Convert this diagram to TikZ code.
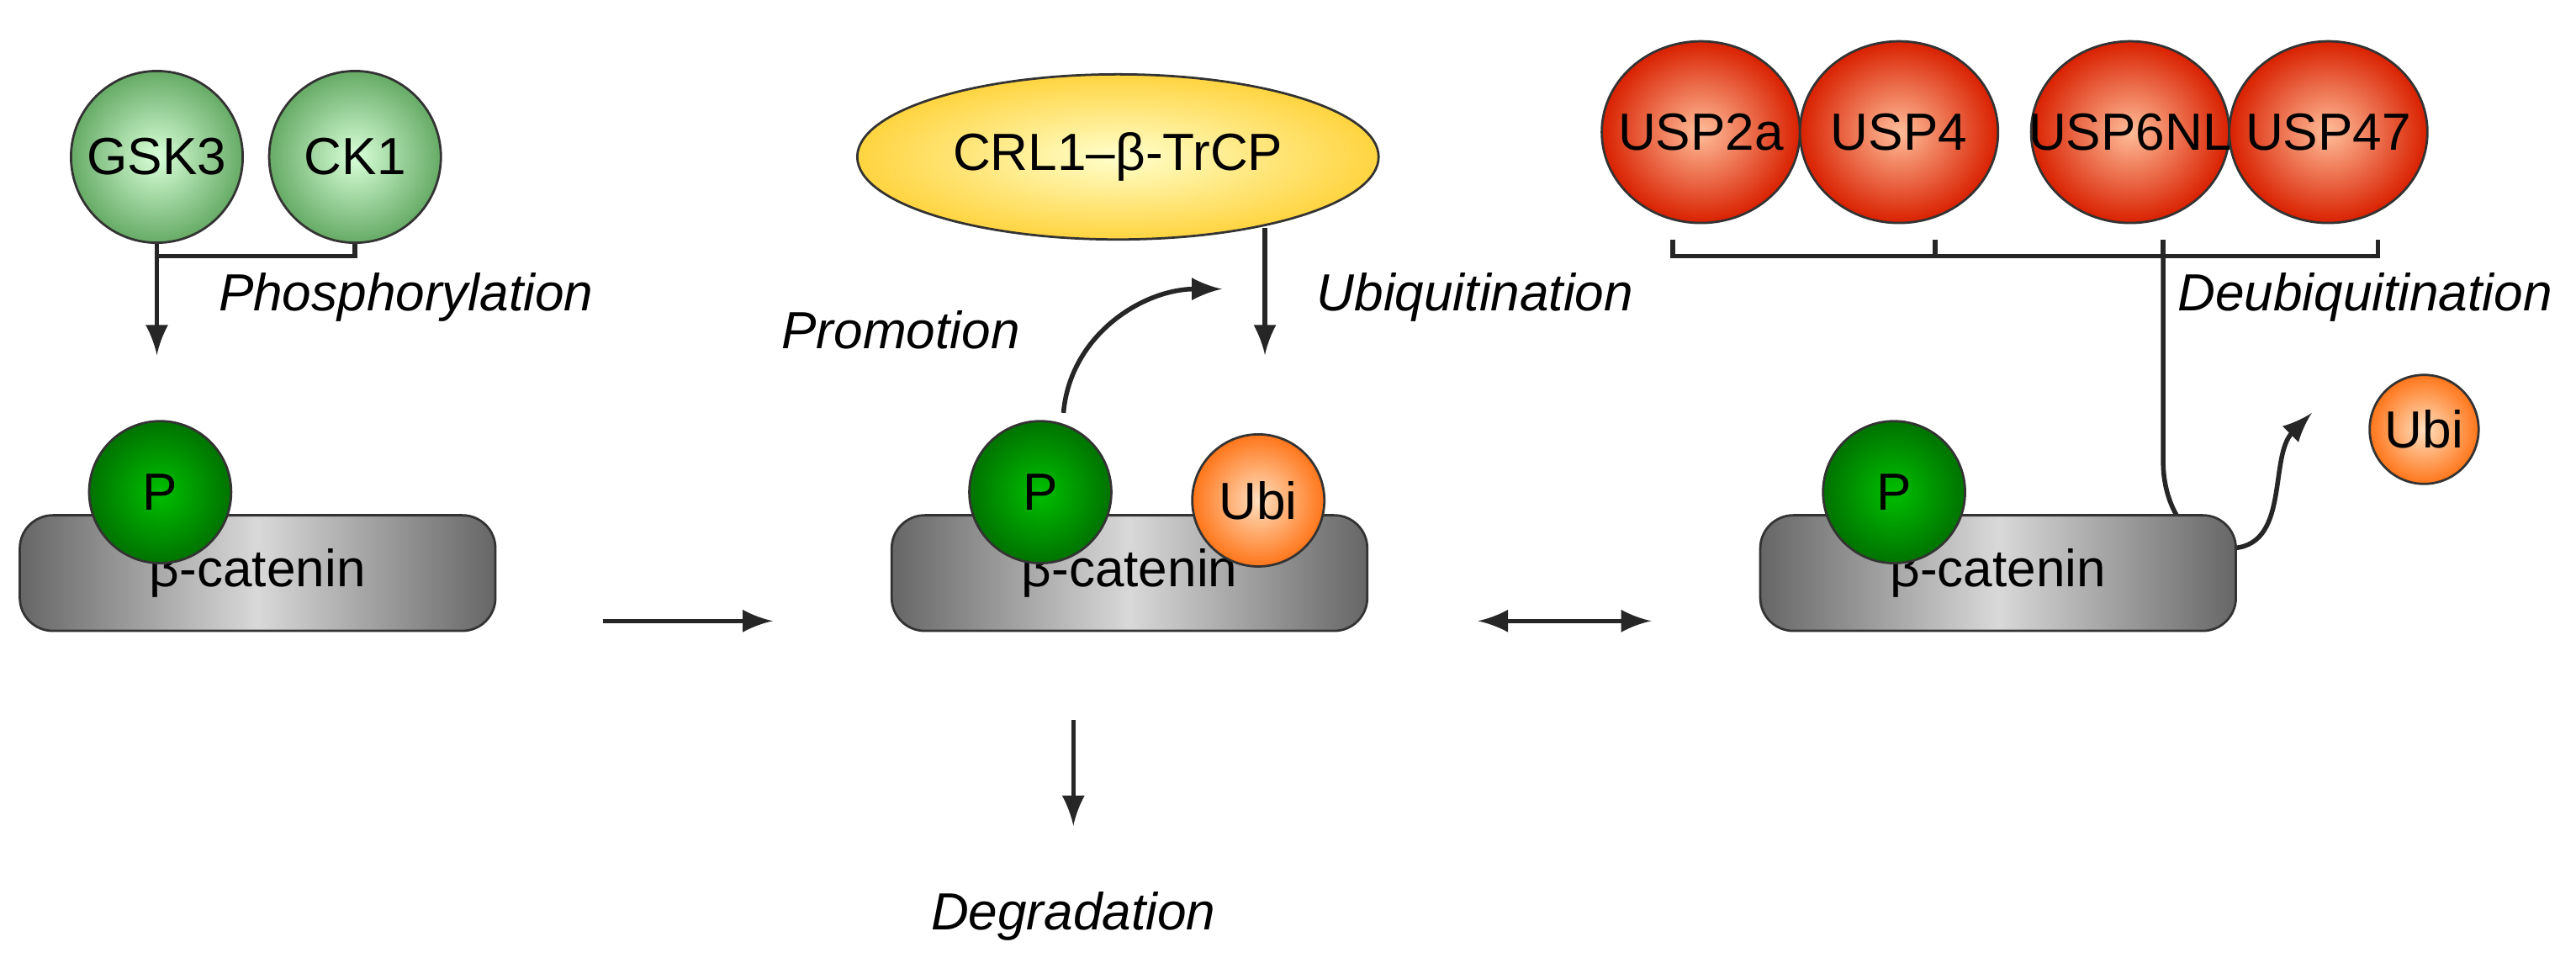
\documentclass[tikz,border=0pt]{standalone}
\usepackage{fontspec}
\setmainfont{Liberation Sans}
\usetikzlibrary{positioning,shapes.geometric}
\tikzset{
  kin/.style={circle, draw=black!80, minimum size=1.04cm, inner sep=0pt, inner color=green!15!white, outer color=green!45!black!60},
  dub/.style={ellipse, draw=black!80, minimum width=1.2cm, minimum height=1.1cm, inner sep=0pt, inner color=red!30!orange!40!white, outer color=red!70!orange!85!black},
  phos/.style={circle, draw=black!80, minimum size=0.86cm, inner sep=0pt, inner color=green!75!black, outer color=green!45!black},
  ubi/.style={circle, draw=black!80, minimum size=0.8cm, inner sep=0pt, inner color=orange!25!white, outer color=orange!80!red!90},
  cat/.style={rounded corners=0.2cm, draw=black!80, minimum width=2.88cm, minimum height=0.7cm, left color=black!60, right color=black!60, middle color=black!15},
  lbl/.style={font=\fontsize{9}{11}\selectfont\itshape},
  arr/.style={-latex, thick, black!85}
}
\begin{document}
\begin{tikzpicture}[font=\fontsize{9}{11}\selectfont]
\useasboundingbox (0,0) rectangle (15.6,-5.8);

% left
\node[kin] (gsk) at (0.95,-0.95) {GSK3};
\node[kin] (ck) at (2.15,-0.95) {CK1};
\draw[thick, black!85] (gsk.south) -- (0.95,-1.55) -| (ck.south);
\coordinate (pa) at (0.95,-1.55);
\node[cat] (cat1) at (1.56,-3.47) {\raisebox{-0.6mm}{β-catenin}};
\node[phos] (p1) at (0.97,-2.98) {P};
\draw[arr] (pa) -- (0.95,-2.15);
\node[lbl, anchor=west] (lph) at (1.2,-1.8) {Phosphorylation};

\draw[arr] (3.65,-3.76) -- (4.68,-3.76);

% middle
\node[ellipse, draw=black!80, minimum width=2.96cm, minimum height=1.0cm, inner color=yellow!20!white, outer color=orange!45!yellow!75] (crl) at (6.77,-0.95) {CRL1–β-TrCP};
\node[cat] (cat2) at (6.84,-3.47) {\raisebox{-0.6mm}{β-catenin}};
\node[phos] (p2) at (6.3,-2.98) {P};
\node[ubi] (u2) at (7.62,-3.03) {Ubi};
\draw[arr] (7.66,-1.38) -- (7.66,-2.15);
\node[lbl, anchor=west] (lub) at (7.85,-1.8) {Ubiquitination};
\node[lbl, anchor=east] (lpr) at (6.3,-2.0) {Promotion};
\draw[arr] (6.44,-2.5) to[out=85, in=180] (7.4,-1.75);
\draw[latex-latex, thick, black!85] (8.95,-3.76) -- (10.0,-3.76);
\draw[arr] (6.5,-4.36) -- (6.5,-5.0);
\node[lbl] (ldg) at (6.5,-5.55) {Degradation};

% right
\node[dub] (u2a) at (10.3,-0.8) {\makebox[0pt]{USP2a}};
\node[dub] (u4) at (11.5,-0.8) {\makebox[0pt]{USP4}};
\node[dub] (u6) at (12.9,-0.8) {\makebox[0pt]{USP6NL}};
\node[dub] (u47) at (14.1,-0.8) {\makebox[0pt]{USP47}};
\draw[thick, black!85] (10.13,-1.45) -- (10.13,-1.55) -- (14.4,-1.55) -- (14.4,-1.45);
\draw[thick, black!85] (11.72,-1.45) -- (11.72,-1.55);
\draw[thick, black!85] (13.1,-1.45) -- (13.1,-1.55);
\draw[arr] (13.1,-1.55) -- (13.1,-2.8) to[out=-90, in=180] (13.5,-3.32) to[out=0, in=225] (14.0,-2.5);
\node[lbl, anchor=east] (ldu) at (15.58,-1.8) {Deubiquitination};
\node[ubi, minimum size=0.66cm] (u3) at (14.68,-2.6) {Ubi};
\node[cat] (cat3) at (12.1,-3.47) {\raisebox{-0.6mm}{β-catenin}};
\node[phos] (p3) at (11.47,-2.98) {P};
\end{tikzpicture}
\end{document}
